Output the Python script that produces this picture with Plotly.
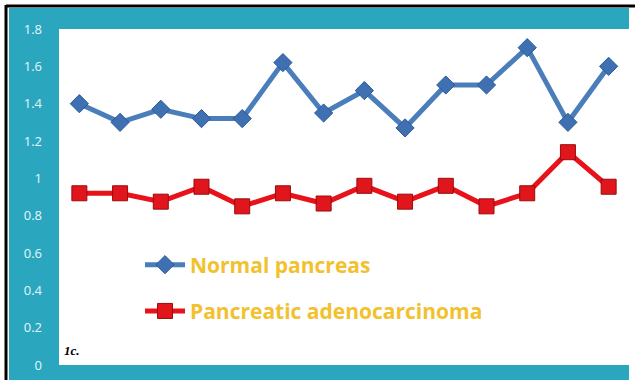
import plotly.graph_objects as go

samples = list(range(1, 15))
normal_pancreas = [1.40, 1.30, 1.37, 1.32, 1.32, 1.62, 1.35, 1.47, 1.27, 1.50, 1.50, 1.70, 1.30, 1.60]
pancreatic_adenocarcinoma = [0.92, 0.92, 0.875, 0.955, 0.85, 0.92, 0.865, 0.96, 0.875, 0.96, 0.85, 0.92, 1.14, 0.955]
y_ticks = [0, 0.2, 0.4, 0.6, 0.8, 1, 1.2, 1.4, 1.6, 1.8]
y_tick_labels = ["0", "0.2", "0.4", "0.6", "0.8", "1", "1.2", "1.4", "1.6", "1.8"]

TEAL = "#2aa7bf"
PW, PH = 570, 336

fig = go.Figure()
fig.add_trace(go.Scatter(
    x=samples, y=normal_pancreas, name="Normal pancreas", mode="lines+markers",
    line=dict(color="#4a7ebb", width=5),
    marker=dict(symbol="diamond", size=14, color="#3f70b2", line=dict(color="#2c5a96", width=1)),
    legendgroup="a",
))
fig.add_trace(go.Scatter(
    x=samples, y=pancreatic_adenocarcinoma, name="Pancreatic adenocarcinoma", mode="lines+markers",
    line=dict(color="#e8121a", width=5),
    marker=dict(symbol="square", size=15, color="#e0161c", line=dict(color="#9a0b0b", width=1)),
    legendgroup="b",
))

fig.update_layout(
    width=635, height=380,
    paper_bgcolor="white", plot_bgcolor="white",
    margin=dict(l=59, r=6, t=29, b=15),
    showlegend=True,
    legend=dict(x=(140 - 59) / PW, y=(365 - 288) / PH, xanchor="left", yanchor="middle",
                bgcolor="rgba(0,0,0,0)", borderwidth=0,
                font=dict(family="Open Sans", size=21, color="#f2c12e", weight="bold"),
                tracegroupgap=16, itemwidth=40),
    xaxis=dict(range=[0.5, 14.5], showticklabels=False, showgrid=False, zeroline=False,
               showline=False, ticks=""),
    yaxis=dict(range=[0, 1.8], tickvals=y_ticks, ticktext=y_tick_labels,
               showgrid=False, zeroline=False, showline=False, ticks="",
               ticklabelstandoff=16,
               tickfont=dict(family="Open Sans", size=13, color="#e8f5f8")),
    shapes=[
        dict(type="rect", xref="paper", yref="paper", layer="below",
             x0=-50 / PW, x1=1.0, y0=-15 / PH, y1=1 + 21 / PH,
             fillcolor=TEAL, line=dict(width=0)),
        dict(type="rect", xref="paper", yref="paper", layer="below",
             x0=0, x1=1.0, y0=0, y1=1,
             fillcolor="white", line=dict(width=0)),
        dict(type="line", xref="paper", yref="paper",
             x0=-53 / PW, x1=1 + 6 / PW, y0=1 + 23 / PH, y1=1 + 23 / PH,
             line=dict(color="black", width=3)),
        dict(type="line", xref="paper", yref="paper",
             x0=-53 / PW, x1=-53 / PW, y0=-15 / PH, y1=1 + 24 / PH,
             line=dict(color="black", width=3)),
    ],
    annotations=[
        dict(text="<b><i>1c.</i></b>", xref="paper", yref="paper", x=3 / PW, y=15 / PH,
             xanchor="left", yanchor="middle", showarrow=False,
             font=dict(family="Liberation Serif", size=13, color="black")),
    ],
)

fig.write_html("out.html", config={"displayModeBar": False},
               post_script="document.body.style.margin='0';document.body.style.overflow='hidden';")
